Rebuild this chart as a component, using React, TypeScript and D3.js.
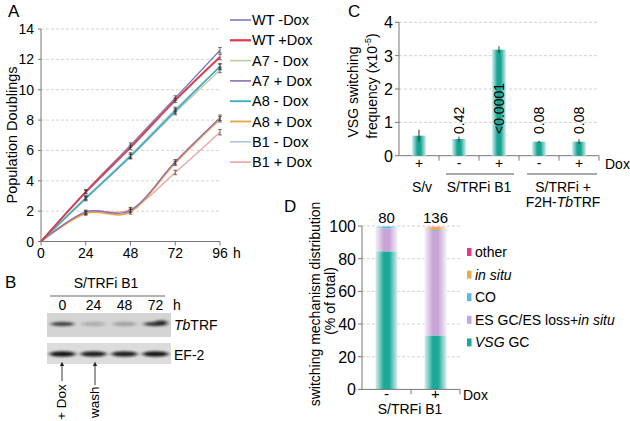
import React from 'react';
import * as d3 from 'd3';

// ---- Panel A: growth curves ----
const hours = [0, 24, 48, 72, 96];
const seriesNames = ['WT -Dox', 'WT +Dox', 'A7 - Dox', 'A7 + Dox', 'A8 - Dox', 'A8 + Dox', 'B1 - Dox', 'B1 + Dox'];
const wtMinus = [0, 3.3, 6.35, 9.45, 12.6];
const wtPlus = [0, 3.25, 6.2, 9.3, 12.15];
const a7Minus = [0, 2.8, 5.6, 8.5, 11.3];
const a7Plus = [0, 1.95, 2.05, 5.25, 8.15];
const a8Minus = [0, 2.85, 5.6, 8.6, 11.55];
const a8Plus = [0, 1.85, 1.95, 5.15, 8.05];
const b1Minus = [0, 2.9, 5.7, 8.7, 11.5];
const b1Plus = [0, 1.9, 2.1, 4.55, 7.2];
const growthErr = [0, 0.12, 0.15, 0.15, 0.18];
const growthTicks = [0, 2, 4, 6, 8, 10, 12, 14];

// ---- Panel B: western blot ----
const blotLanes = ['0', '24', '48', '72'];
const trfIntensity = [0.75, 0.22, 0.28, 0.8];
const ef2Intensity = [0.95, 0.9, 0.9, 0.95];

// ---- Panel C: switching frequency ----
const cBars = ['S/v', 'B1-', 'B1+', 'F2H-', 'F2H+'];
const cDox = ['+', '-', '+', '-', '+'];
const cFreq = [0.6, 0.5, 3.18, 0.42, 0.42];
const cErr = [0.18, 0.07, 0.1, 0.03, 0.07];
const cPvals = ['', '0.42', '<0.0001', '0.08', '0.08'];
const cTicks = [0, 1, 2, 3, 4];

// ---- Panel D: switching mechanism ----
const dDox = ['-', '+'];
const dCounts = ['80', '136'];
const vsgGC = [84.5, 33];
const esGC = [14, 64];
const coPct = [1.2, 0.5];
const inSituPct = [0, 1.8];
const otherPct = [0, 0.2];
const dTicks = [0, 20, 40, 60, 80, 100];

const font = '"Liberation Sans", Arial, sans-serif';
const axisGray = '#777';
const gridGray = '#c8c8c8';

const seriesColors = ['#7b7bc0', '#d6404f', '#b8cc9c', '#8a70b0', '#3aaac0', '#f0a04a', '#a8c8dc', '#e8a4a4'];
const seriesWidths = [1.3, 2, 1.3, 1.3, 1.5, 1.5, 1.3, 1.3];
const mechColors = { vsg: '#1aa898', es: '#c8a4d8', co: '#5ab8e0', insitu: '#f0a850', other: '#e8388a' };

function BarGradient({ id, color }: { id: string; color: string }) {
  const light = d3.interpolateRgb(color, '#ffffff');
  return (
    <linearGradient id={id} x1="0" x2="1" y1="0" y2="0">
      <stop offset="0%" stopColor={light(0.82)} />
      <stop offset="18%" stopColor={light(0.45)} />
      <stop offset="38%" stopColor={color} />
      <stop offset="62%" stopColor={color} />
      <stop offset="82%" stopColor={light(0.45)} />
      <stop offset="100%" stopColor={light(0.82)} />
    </linearGradient>
  );
}

export default function App() {
  const allSeries = [wtMinus, wtPlus, a7Minus, a7Plus, a8Minus, a8Plus, b1Minus, b1Plus];

  // A scales
  const xA = d3.scaleLinear().domain([0, 96]).range([41, 220]);
  const yA = d3.scaleLinear().domain([0, 14]).range([241.5, 29]);
  const lineA = d3.line<number>()
    .x((_, i) => xA(hours[i]))
    .y((d) => yA(d))
    .curve(d3.curveCardinal.tension(0));
  const drawOrder = [7, 5, 3, 6, 2, 4, 0, 1];

  // B
  const xB = d3.scaleBand<string>().domain(blotLanes).range([47, 171]);

  // C scales
  const xC = d3.scaleBand<string>().domain(cBars).range([399, 599]);
  const yC = d3.scaleLinear().domain([0, 4]).range([155.7, 22.3]);
  const cBarW = 14;

  // D scales
  const xD = d3.scaleBand<string>().domain(dDox).range([362, 460]);
  const yD = d3.scaleLinear().domain([0, 100]).range([389.4, 226]);
  const dBarW = 22;
  const stacks = d3.stack<number>()
    .keys(['vsg', 'es', 'co', 'insitu', 'other'])
    .value((i, key) => ({ vsg: vsgGC, es: esGC, co: coPct, insitu: inSituPct, other: otherPct } as any)[key][i])(
    [0, 1]
  );

  const legendD = [
    { key: 'other', parts: [['other', false]] },
    { key: 'insitu', parts: [['in situ', true]] },
    { key: 'co', parts: [['CO', false]] },
    { key: 'es', parts: [['ES GC/ES loss+', false], ['in situ', true]] },
    { key: 'vsg', parts: [['VSG', true], [' GC', false]] },
  ];

  return (
    <svg width={630} height={421} style={{ position: 'absolute', left: 0, top: 0, background: '#fff' }}
      fontFamily={font}>
      <defs>
        <BarGradient id="tealC" color="#16a493" />
        <BarGradient id="g-vsg" color={mechColors.vsg} />
        <BarGradient id="g-es" color={mechColors.es} />
        <BarGradient id="g-co" color={mechColors.co} />
        <BarGradient id="g-insitu" color={mechColors.insitu} />
        <BarGradient id="g-other" color={mechColors.other} />
        <filter id="blur" x="-30%" y="-100%" width="160%" height="300%">
          <feGaussianBlur stdDeviation="2 1.2" />
        </filter>
        <marker id="arrowUp" viewBox="0 0 6 6" refX="3" refY="3" markerWidth="5" markerHeight="5" orient="auto">
          <path d="M0,0 L6,3 L0,6 z" fill="#222" />
        </marker>
      </defs>

      {/* ================= Panel A ================= */}
      <text x={8} y={17} fontSize={17}>A</text>
      {growthTicks.slice(1).map((t) => (
        <line key={t} x1={xA(0)} x2={xA(96)} y1={yA(t)} y2={yA(t)} stroke={gridGray} strokeDasharray="3,2" strokeWidth={0.8} />
      ))}
      <line x1={xA(0)} x2={xA(0)} y1={yA(14)} y2={yA(0)} stroke={axisGray} />
      <line x1={xA(0)} x2={xA(96)} y1={yA(0)} y2={yA(0)} stroke={axisGray} />
      {growthTicks.map((t) => (
        <g key={t}>
          <line x1={xA(0) - 3} x2={xA(0)} y1={yA(t)} y2={yA(t)} stroke={axisGray} />
          <text x={34} y={yA(t) + 5} fontSize={14} textAnchor="end">{t}</text>
        </g>
      ))}
      {hours.map((h) => (
        <g key={h}>
          <line x1={xA(h)} x2={xA(h)} y1={yA(0)} y2={yA(0) + 4} stroke={axisGray} />
          <text x={xA(h)} y={258} fontSize={14} textAnchor="middle">{h}</text>
        </g>
      ))}
      <text x={233} y={258} fontSize={14}>h</text>
      <text transform={`translate(17,${135}) rotate(-90)`} fontSize={14.5} textAnchor="middle">Population Doublings</text>

      {drawOrder.map((si) => (
        <path key={si} d={lineA(allSeries[si]) || ''} fill="none" stroke={seriesColors[si]} strokeWidth={seriesWidths[si]} />
      ))}
      {allSeries.map((s, si) =>
        s.map((v, i) => {
          if (i === 0) return null;
          const x = xA(hours[i]);
          const e = growthErr[i];
          return (
            <g key={`${si}-${i}`} stroke="#333" strokeWidth={0.7}>
              <line x1={x} x2={x} y1={yA(v + e)} y2={yA(v - e)} />
              <line x1={x - 1.8} x2={x + 1.8} y1={yA(v + e)} y2={yA(v + e)} />
              <line x1={x - 1.8} x2={x + 1.8} y1={yA(v - e)} y2={yA(v - e)} />
            </g>
          );
        })
      )}
      {seriesNames.map((n, i) => {
        const y = 20 + i * 20.3;
        return (
          <g key={n}>
            <line x1={230} x2={251} y1={y} y2={y} stroke={seriesColors[i]} strokeWidth={seriesWidths[i] + 0.3} />
            <text x={252} y={y + 5} fontSize={14.5}>{n}</text>
          </g>
        );
      })}

      {/* ================= Panel B ================= */}
      <text x={5} y={288} fontSize={17}>B</text>
      <text x={106} y={288} fontSize={14} textAnchor="middle">S/TRFi B1</text>
      <line x1={50} x2={165} y1={296} y2={296} stroke="#666" strokeWidth={1.2} />
      {blotLanes.map((l) => (
        <text key={l} x={(xB(l) || 0) + xB.bandwidth() / 2} y={310} fontSize={14} textAnchor="middle">{l}</text>
      ))}
      <text x={173} y={310} fontSize={14}>h</text>
      <rect x={47} y={313} width={124} height={24} fill="#d4d4d4" />
      <rect x={47} y={343} width={124} height={21} fill="#dcdcdc" />
      {blotLanes.map((l, i) => {
        const cx = (xB(l) || 0) + xB.bandwidth() / 2;
        return (
          <g key={l} filter="url(#blur)">
            <ellipse cx={cx} cy={324} rx={12} ry={2.2} fill="#1a1a1a" opacity={trfIntensity[i]} />
            {i === 3 && <ellipse cx={cx + 6} cy={322.5} rx={6} ry={2.5} fill="#111" opacity={0.7} />}
            <ellipse cx={cx} cy={354} rx={13} ry={2.8} fill="#111" opacity={ef2Intensity[i]} />
          </g>
        );
      })}
      <text x={174} y={330} fontSize={14}>
        <tspan fontStyle="italic">Tb</tspan>TRF
      </text>
      <text x={174} y={360} fontSize={14}>EF-2</text>
      <text transform="translate(66,420) rotate(-90)" fontSize={13.5}>+ Dox</text>
      <line x1={62} x2={62} y1={381} y2={364} stroke="#222" strokeWidth={0.9} markerEnd="url(#arrowUp)" />
      <text transform="translate(99,418) rotate(-90)" fontSize={13.5}>wash</text>
      <line x1={95} x2={95} y1={385} y2={364} stroke="#222" strokeWidth={0.9} markerEnd="url(#arrowUp)" />

      {/* ================= Panel C ================= */}
      <text x={348} y={17} fontSize={17}>C</text>
      {cTicks.slice(1).map((t) => (
        <line key={t} x1={399} x2={599} y1={yC(t)} y2={yC(t)} stroke={gridGray} strokeDasharray="3,2" strokeWidth={0.8} />
      ))}
      <line x1={399} x2={399} y1={yC(4)} y2={yC(0)} stroke={axisGray} />
      <line x1={399} x2={599} y1={yC(0)} y2={yC(0)} stroke={axisGray} />
      {cTicks.map((t) => (
        <g key={t}>
          <line x1={395} x2={399} y1={yC(t)} y2={yC(t)} stroke={axisGray} />
          <text x={393} y={yC(t) + 6} fontSize={16} textAnchor="end">{t}</text>
        </g>
      ))}
      {cBars.map((b, i) => {
        const x0 = xC(b) || 0;
        const cx = x0 + xC.bandwidth() / 2;
        return (
          <g key={b}>
            {i > 0 && <line x1={x0} x2={x0} y1={yC(0)} y2={yC(0) + 5} stroke={axisGray} />}
            <rect x={cx - cBarW / 2} y={yC(cFreq[i])} width={cBarW} height={yC(0) - yC(cFreq[i])} fill="url(#tealC)" />
            <line x1={cx} x2={cx} y1={yC(cFreq[i] + cErr[i])} y2={yC(cFreq[i] - cErr[i])} stroke="#333" strokeWidth={1} />
            {cPvals[i] && (
              <text transform={`translate(${cx + 5},134) rotate(-90)`} fontSize={14}>{cPvals[i]}</text>
            )}
            <text x={cx} y={168} fontSize={14} textAnchor="middle">{cDox[i]}</text>
          </g>
        );
      })}
      <line x1={599} x2={599} y1={yC(0)} y2={yC(0) + 5} stroke={axisGray} />
      <text x={605} y={169} fontSize={14}>Dox</text>
      <line x1={446} x2={514} y1={174} y2={174} stroke="#555" />
      <line x1={527} x2={597} y1={174} y2={174} stroke="#555" />
      <text x={422} y={192} fontSize={14} textAnchor="middle">S/v</text>
      <text x={479} y={192} fontSize={14} textAnchor="middle">S/TRFi B1</text>
      <text x={563} y={192} fontSize={14} textAnchor="middle">S/TRFi +</text>
      <text x={563} y={207} fontSize={14} textAnchor="middle">
        F2H-<tspan fontStyle="italic">Tb</tspan>TRF
      </text>
      <text transform="translate(358,92) rotate(-90)" fontSize={14} textAnchor="middle">VSG switching</text>
      <text transform="translate(377,86) rotate(-90)" fontSize={14} textAnchor="middle">
        frequency (x10<tspan fontSize={9} dy={-6}>-5</tspan><tspan dy={6}>)</tspan>
      </text>

      {/* ================= Panel D ================= */}
      <text x={284} y={212} fontSize={17}>D</text>
      {dTicks.slice(1).map((t) => (
        <line key={t} x1={362} x2={460} y1={yD(t)} y2={yD(t)} stroke={gridGray} strokeDasharray="3,2" strokeWidth={0.8} />
      ))}
      {stacks.map((layer) =>
        layer.map((seg, i) => {
          if (seg[1] - seg[0] <= 0) return null;
          const cx = (xD(dDox[i]) || 0) + xD.bandwidth() / 2;
          return (
            <rect key={`${layer.key}-${i}`} x={cx - dBarW / 2} y={yD(seg[1])} width={dBarW}
              height={yD(seg[0]) - yD(seg[1])} fill={`url(#g-${layer.key})`} />
          );
        })
      )}
      <line x1={362} x2={362} y1={yD(100)} y2={yD(0)} stroke={axisGray} />
      <line x1={362} x2={460} y1={yD(0)} y2={yD(0)} stroke={axisGray} />
      {dTicks.map((t) => (
        <g key={t}>
          <line x1={358} x2={362} y1={yD(t)} y2={yD(t)} stroke={axisGray} />
          <text x={356} y={yD(t) + 6} fontSize={16} textAnchor="end">{t}</text>
        </g>
      ))}
      {dDox.map((d, i) => {
        const x0 = xD(d) || 0;
        const cx = x0 + xD.bandwidth() / 2;
        return (
          <g key={d}>
            <line x1={x0 + xD.bandwidth()} x2={x0 + xD.bandwidth()} y1={yD(0)} y2={yD(0) + 5} stroke={axisGray} />
            <text x={cx} y={399} fontSize={15} textAnchor="middle">{d}</text>
            <text x={cx} y={223} fontSize={15} textAnchor="middle">{dCounts[i]}</text>
          </g>
        );
      })}
      <text x={463} y={400} fontSize={14}>Dox</text>
      <text x={410} y={414} fontSize={14} textAnchor="middle">S/TRFi B1</text>
      <text transform="translate(320,304) rotate(-90)" fontSize={14} textAnchor="middle">switching mechanism distribution</text>
      <text transform="translate(335,301) rotate(-90)" fontSize={14} textAnchor="middle">(% of total)</text>
      {legendD.map((l, i) => {
        const y = 252 + i * 22.6;
        return (
          <g key={l.key}>
            <rect x={467} y={y - 4} width={4.5} height={8} fill={(mechColors as any)[l.key]} />
            <text x={475} y={y + 5} fontSize={14}>
              {l.parts.map((p, j) => (
                <tspan key={j} fontStyle={p[1] ? 'italic' : 'normal'}>{p[0] as string}</tspan>
              ))}
            </text>
          </g>
        );
      })}
    </svg>
  );
}
